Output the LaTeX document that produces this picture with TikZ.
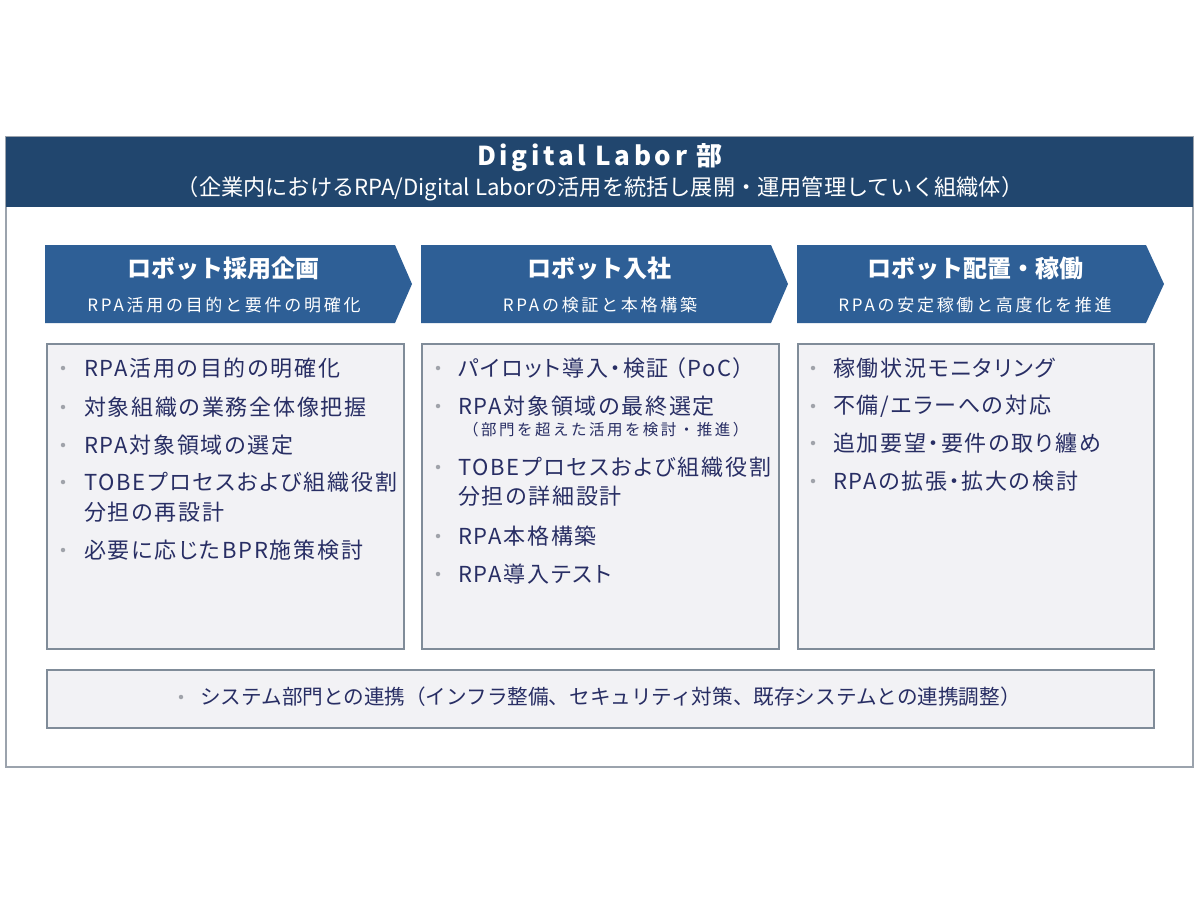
\documentclass[tikz,border=0pt]{standalone}
\usepackage{fontspec}
\setmainfont{Noto Sans CJK JP}
\newfontfamily\jpspaced[LetterSpace=8,RawFeature=+palt]{Noto Sans CJK JP}
\newfontfamily\jpwide[LetterSpace=16]{Noto Sans CJK JP}
\newfontfamily\titlefont[LetterSpace=14]{Noto Sans CJK JP}
\definecolor{headblue}{RGB}{33,70,110}
\definecolor{chevblue}{RGB}{46,95,150}
\definecolor{framegray}{RGB}{155,163,173}
\definecolor{boxborder}{RGB}{128,140,153}
\definecolor{boxfill}{RGB}{242,242,245}
\definecolor{itemtext}{RGB}{40,46,100}
\definecolor{dotgray}{RGB}{160,163,170}
\tikzset{
  outerframe/.style={draw=framegray, line width=1.5pt, fill=white},
  headband/.style={fill=headblue},
  chev/.style={fill=chevblue},
  itembox/.style={draw=boxborder, fill=boxfill, line width=1.8pt, anchor=north west, inner sep=0pt},
  item/.style={anchor=west, inner sep=0pt, text=itemtext, font=\jpspaced\fontsize{22}{26}\selectfont},
  smallitem/.style={anchor=west, inner sep=0pt, text=itemtext, font=\jpwide\fontsize{15.5}{19}\selectfont},
  bul/.style={circle, fill=dotgray, inner sep=0pt, minimum size=4.5pt},
  chevtitle/.style={text=white, inner sep=0pt, font=\bfseries\fontsize{24}{28}\selectfont},
  chevsub/.style={text=white, inner sep=0pt, font=\jpwide\fontsize{17}{20}\selectfont},
}
\begin{document}
\begin{tikzpicture}[x=1pt,y=-1pt]
\useasboundingbox (0,0) rectangle (1200,900);
% outer frame and header
\draw[outerframe] (6,137) rectangle (1193,767);
\fill[headband] (6,137) rectangle (1193,207);
\node[text=white, inner sep=0pt, font=\titlefont\bfseries\fontsize{26}{30}\selectfont] (title) at (600,158) {Digital Labor 部};
\node[text=white, inner sep=0pt, font=\fontsize{22.2}{26}\selectfont] (subtitle) at (600,189) {（企業内におけるRPA/Digital Laborの活用を統括し展開・運用管理していく組織体）};
% chevrons
\fill[chev] (45,245) -- (395,245) -- (412,284) -- (395,323) -- (45,323) -- cycle;
\fill[chev] (421,245) -- (771,245) -- (788,284) -- (771,323) -- (421,323) -- cycle;
\fill[chev] (797,245) -- (1146,245) -- (1164,284) -- (1146,323) -- (797,323) -- cycle;
\node[chevtitle] (c1t) at (223,268) {ロボット採用企画};
\node[chevtitle] (c2t) at (599,268) {ロボット入社};
\node[chevtitle] (c3t) at (975,268) {ロボット配置・稼働};
\node[chevsub] (c1s) at (224,305) {RPA活用の目的と要件の明確化};
\node[chevsub] (c2s) at (600,305) {RPAの検証と本格構築};
\node[chevsub] (c3s) at (975,305) {RPAの安定稼働と高度化を推進};
% boxes
\node[itembox, minimum width=357, minimum height=305] (b1) at (46,343) {};
\node[itembox, minimum width=357, minimum height=305] (b2) at (421,343) {};
\node[itembox, minimum width=356, minimum height=305] (b3) at (797,343) {};
\node[itembox, minimum width=1107, minimum height=58] (b4) at (46,669) {};
% box 1 items
\node[bul] (d11) at (63,368) {};
\node[item] (t11) at (84,368) {RPA活用の目的の明確化};
\node[bul] (d12) at (63,407) {};
\node[item] (t12) at (84,407) {対象組織の業務全体像把握};
\node[bul] (d13) at (63,445) {};
\node[item] (t13) at (84,445) {RPA対象領域の選定};
\node[bul] (d14) at (63,482) {};
\node[item] (t14) at (84,482) {TOBEプロセスおよび組織役割};
\node[item] (t15) at (84,512) {分担の再設計};
\node[bul] (d16) at (63,550) {};
\node[item] (t16) at (84,550) {必要に応じたBPR施策検討};
% box 2 items
\node[bul] (d21) at (438,368) {};
\node[item] (t21) at (458,368) {パイロット導入・検証\hspace{6pt}（PoC）};
\node[bul] (d22) at (438,406) {};
\node[item] (t22) at (458,406) {RPA対象領域の最終選定};
\node[smallitem] (t23) at (463,430) {（部門を超えた活用を検討・推進）};
\node[bul] (d24) at (438,467) {};
\node[item] (t24) at (458,467) {TOBEプロセスおよび組織役割};
\node[item] (t25) at (458,496) {分担の詳細設計};
\node[bul] (d26) at (438,536) {};
\node[item] (t26) at (458,536) {RPA本格構築};
\node[bul] (d27) at (438,574) {};
\node[item] (t27) at (458,574) {RPA導入テスト};
% box 3 items
\node[bul] (d31) at (813,368) {};
\node[item] (t31) at (833,368) {稼働状況モニタリング};
\node[bul] (d32) at (813,406) {};
\node[item] (t32) at (833,406) {不備/エラーへの対応};
\node[bul] (d33) at (813,443) {};
\node[item] (t33) at (833,443) {追加要望・要件の取り纏め};
\node[bul] (d34) at (813,481) {};
\node[item] (t34) at (833,481) {RPAの拡張・拡大の検討};
% bottom box
\node[bul] (d41) at (181,697) {};
\node[anchor=west, inner sep=0pt, text=itemtext, font=\fontsize{20.6}{24}\selectfont] (t41) at (200,697) {システム部門との連携（インフラ整備、セキュリティ対策、既存システムとの連携調整）};
\end{tikzpicture}
\end{document}
